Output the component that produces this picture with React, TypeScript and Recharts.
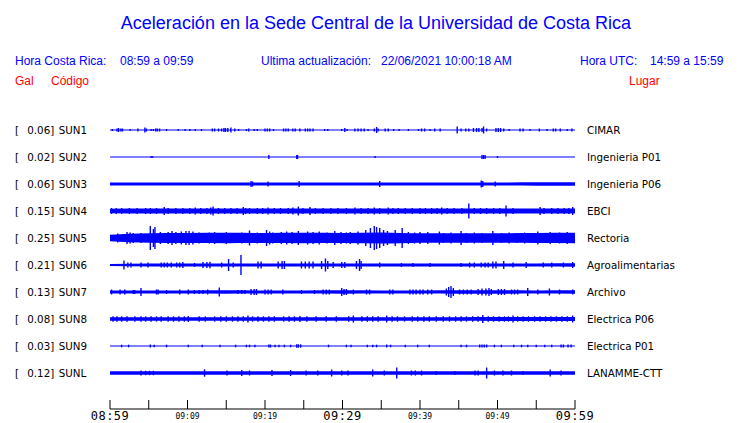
import { ComposedChart, Area, Scatter, ErrorBar, XAxis, YAxis } from 'recharts'

// station rows, top to bottom
const codes = ['SUN1', 'SUN2', 'SUN3', 'SUN4', 'SUN5', 'SUN6', 'SUN7', 'SUN8', 'SUN9', 'SUNL']
const gals = ['0.06', '0.02', '0.06', '0.15', '0.25', '0.21', '0.13', '0.08', '0.03', '0.12']
const places = ['CIMAR', 'Ingenieria P01', 'Ingenieria P06', 'EBCI', 'Rectoria', 'Agroalimentarias', 'Archivo', 'Electrica P06', 'Electrica P01', 'LANAMME-CTT']

// minutes after 08:59
const tickTimes = [0, 5, 10, 15, 20, 25, 30, 35, 40, 45, 50, 55, 60]
const tickLabels = ['08:59', '', '09:09', '', '09:19', '', '09:29', '', '09:39', '', '09:49', '', '09:59']
const majorLabels = ['08:59', '09:29', '09:59']

// background noise half-width of each trace, read every 5 minutes
const envTimes = [0, 5, 10, 15, 20, 25, 30, 35, 40, 45, 50, 55, 60]
const sun1Env = [0.55, 0.55, 0.55, 0.55, 0.55, 0.55, 0.55, 0.55, 0.55, 0.55, 0.55, 0.55, 0.55]
const sun2Env = [0.5, 0.5, 0.5, 0.5, 0.5, 0.5, 0.5, 0.5, 0.5, 0.5, 0.5, 0.5, 0.5]
const sun3Env = [1.5, 1.5, 1.6, 1.6, 1.5, 1.5, 1.5, 1.5, 1.6, 1.6, 1.6, 1.7, 1.7]
const sun4Env = [2.2, 2.4, 2.4, 2.4, 2.5, 2.5, 2.4, 2.4, 2.4, 2.4, 2.5, 2.4, 2.6]
const sun5Env = [3.3, 4.8, 5, 5.2, 5, 5.2, 5, 5.6, 4.8, 4.8, 4.8, 5, 5.2]
const sun6Env = [1, 1.5, 1.5, 1.6, 1.5, 1.6, 1.5, 1.5, 1.5, 1.6, 1.6, 1.6, 1.7]
const sun7Env = [1.6, 1.6, 1.6, 1.7, 1.6, 1.6, 1.7, 1.6, 1.6, 1.7, 1.7, 1.6, 1.7]
const sun8Env = [1.8, 1.8, 1.8, 1.8, 1.8, 1.8, 1.8, 1.8, 1.8, 1.8, 1.9, 1.9, 2]
const sun9Env = [0.6, 0.6, 0.6, 0.6, 0.6, 0.6, 0.6, 0.6, 0.6, 0.6, 0.6, 0.6, 0.6]
const sunlEnv = [1.7, 1.7, 1.7, 1.7, 1.7, 1.7, 1.7, 1.7, 1.7, 1.7, 1.7, 1.7, 1.8]

// bursts and spikes: [minute, half amplitude]
const sun1Events = [[0.3, 1], [0.9, 1.5], [1.1, 2], [1.4, 1.5], [1.6, 1.5], [2.6, 1], [3.6, 1.5], [4.5, 2.5], [4.7, 1.5], [5.3, 1], [5.6, 1], [5.9, 1.5], [6.1, 1.5], [6.4, 1.5], [7.3, 1], [8.8, 1], [9.7, 1], [10.3, 1], [11, 1], [11.8, 1], [13.2, 1.5], [13.5, 1.5], [14, 1.5], [14.4, 1.5], [14.7, 2], [14.9, 2], [15.2, 2], [15.6, 2.5], [16.1, 1.5], [16.6, 1], [17.6, 1], [17.9, 1.5], [18.6, 1], [19, 1], [20, 1.5], [20.3, 1.5], [20.6, 1.5], [21.1, 1], [22.4, 1.5], [22.7, 1.5], [23, 1.5], [23.6, 1.5], [23.9, 1.5], [24.5, 1.5], [25.2, 1.5], [25.5, 1.5], [25.8, 1.5], [26.2, 1.5], [27.7, 1], [28.1, 1], [29.9, 1], [30.3, 2], [30.6, 1], [31.6, 1.5], [32, 1.5], [32.4, 1.5], [32.8, 1.5], [33.3, 1], [34.1, 1.5], [34.4, 3], [34.6, 1.5], [35.5, 1.5], [35.9, 1.5], [36.6, 1], [37.3, 1], [38.5, 1], [39.8, 1], [40.2, 1.5], [40.6, 1.5], [41.3, 1], [41.9, 1.5], [42.6, 1.5], [44.8, 3.5], [45.3, 1.5], [45.9, 1.5], [46.3, 1.5], [46.9, 2], [47.3, 2], [47.6, 2], [48, 2], [48.2, 3.5], [48.6, 1.5], [49.8, 2], [50.1, 2], [50.4, 2], [50.8, 1.5], [51.5, 1], [52.9, 1.5], [53.3, 1.5], [54.2, 1], [55.4, 1.5], [56.4, 1], [57.2, 1.5], [57.5, 1.5], [58.1, 1.5], [59, 1], [59.6, 1.5]]
const sun2Events = [[5.3, 1], [5.5, 0.8], [20.5, 2], [24.1, 2], [24.2, 2], [34.2, 1], [48, 2], [48.2, 2], [48.4, 2], [50, 1]]
const sun3Events = [[18.2, 3], [18.4, 2.5], [20.4, 2.5], [24.4, 3], [34.8, 3], [47.9, 3.5], [48.1, 3], [49.7, 2.5]]
const sun4Events = [[0.2, 3], [0.8, 3], [1.5, 3], [2.5, 3], [3.5, 3], [4.6, 3], [5.2, 3], [6, 3], [7, 4], [7.5, 3], [8.5, 3], [9.4, 3], [10.3, 3], [11, 3.5], [11.7, 3], [12.5, 3], [13, 3.5], [13.3, 4.5], [14, 3], [14.8, 3], [15.6, 3], [16.4, 3], [17.2, 4], [17.5, 3], [18, 3], [19, 3], [19.7, 3], [20.4, 3.5], [21.2, 3], [22, 3], [23, 3], [23.6, 3.5], [24.3, 4.5], [24.9, 3], [25.8, 4], [26.5, 3], [27.5, 3], [28.5, 3], [29.4, 3], [30.5, 3], [31.6, 3.5], [32.4, 3], [33.3, 3], [34.1, 3.5], [34.8, 3], [35.9, 3.5], [36.5, 3], [37.2, 3], [38.1, 3], [39, 3], [40, 3], [40.7, 3], [41.5, 3], [42.2, 3], [42.8, 3.5], [43.5, 3], [44.4, 3], [45.4, 3], [46.3, 7.5], [47, 3], [47.8, 3], [48.6, 3], [49.5, 3], [50.3, 3], [51.1, 5.5], [52, 3], [55.5, 4], [56, 3], [57, 3], [57.8, 3], [58.6, 3], [59.2, 3], [59.7, 4]]
const sun5Events = [[1, 4.5], [2.2, 6], [2.6, 5.5], [3, 5], [4, 5], [5.2, 12], [5.6, 9], [5.8, 11], [6.5, 6], [7.5, 6], [8, 7], [8.5, 6], [9.2, 6.5], [9.8, 7], [10.2, 7], [10.7, 6.5], [11.5, 5.5], [12.8, 5.5], [13.5, 6], [14.2, 5], [15, 6], [16, 5], [17, 5.5], [18, 7.5], [19, 5.5], [20.2, 8], [20.6, 6.5], [21, 5.5], [22.1, 6], [22.8, 6.5], [23.5, 6], [24.3, 7], [25.5, 6.5], [26.2, 6], [27, 6.5], [28, 5.5], [29, 7], [29.8, 6], [30.5, 5.5], [31, 6], [32, 6.5], [33, 8], [33.6, 10], [34.1, 12], [34.4, 11], [34.8, 10], [35.3, 8], [35.8, 7], [36.8, 8], [37.7, 10], [38.5, 6], [39.3, 5.5], [40, 6], [41, 6], [42.5, 6.5], [43, 5], [44, 5.5], [45.3, 7], [46, 5], [47, 5.5], [48, 5], [49.4, 7], [50.5, 5], [51.5, 5.5], [52.5, 5], [53.5, 5.5], [54.3, 5], [55.2, 6.5], [56.8, 6], [58, 5.5], [59, 6]]
const sun6Events = [[1.8, 4.5], [2.3, 2.5], [2.7, 2.5], [4, 2.5], [4.9, 2.5], [6.6, 2.5], [7, 2.5], [7.4, 2.5], [7.9, 2.5], [8.6, 2.5], [9, 2.5], [9.4, 3], [10.9, 2], [12, 3], [12.5, 3], [12.9, 3.3], [14.4, 2.5], [15.3, 6], [15.9, 2.5], [16.9, 10], [19.1, 3.5], [19.5, 3.5], [21.7, 3.5], [22.2, 4], [22.5, 4], [24.7, 3.5], [25.2, 3.5], [25.7, 3.5], [26.2, 3.5], [27.3, 4], [27.8, 6.5], [28.1, 4], [28.8, 3], [29.9, 3], [30.3, 3], [31.8, 4], [32.2, 6], [32.4, 4], [34.8, 2.5], [37.6, 2], [39.1, 2], [41.3, 2], [45.3, 2], [46.4, 2.5], [47, 2.5], [47.9, 2.5], [48.4, 2.5], [48.8, 2.5], [49.4, 3.5], [49.8, 3.5], [50.8, 4], [52, 2.5], [53.7, 3], [55.9, 2.5], [57, 2.5], [58.5, 2.5], [59.7, 3]]
const sun7Events = [[0.2, 2.5], [1.3, 2.5], [1.9, 2.5], [3, 2], [3.2, 2], [4, 4], [6, 2.5], [6.2, 2.5], [7.3, 2], [9, 2.5], [10.1, 2.5], [10.9, 2], [11.5, 2], [12, 2], [12.6, 2.5], [14.1, 4.5], [16.5, 2], [17, 2], [17.4, 2], [18.2, 3], [18.6, 3], [18.9, 3], [20, 2.5], [20.4, 2.5], [20.8, 2.5], [22.3, 2.5], [24.7, 2], [26.4, 2], [27.5, 2.5], [27.9, 2.5], [28.3, 2.5], [29.9, 4], [30.2, 3], [30.5, 3], [31.4, 2.5], [33.1, 2.5], [33.5, 2.5], [36.1, 2.5], [36.5, 2.5], [38.7, 2.5], [39.1, 2.5], [39.5, 2.5], [40, 2.5], [40.4, 2.5], [41, 2.5], [41.5, 2.5], [43.4, 3.5], [43.7, 5], [44, 6], [44.3, 4], [45.1, 2.5], [45.6, 2.5], [46.1, 2.5], [46.6, 2.5], [47.5, 3], [48, 3.5], [48.5, 3.5], [48.9, 4], [49.2, 3], [50.1, 3], [50.5, 3], [50.9, 3], [51.8, 2.5], [52.2, 2.5], [52.6, 2.5], [53.9, 4], [55.2, 2.5], [56.7, 3.5], [58, 2.5], [59.7, 2.5]]
const sun8Events = [[0.4, 2.7], [0.9, 2.7], [1.5, 2.7], [2.2, 2.7], [3.2, 2.7], [4, 2.7], [4.6, 2.7], [5.3, 2.7], [6, 2.7], [6.6, 2.7], [7.5, 2.7], [8.2, 2.7], [8.9, 2.7], [9.6, 2.7], [10.1, 3], [11.5, 2.7], [12.3, 2.7], [13.5, 2.7], [14.3, 2.7], [15, 2.7], [15.8, 2.7], [16.5, 2.7], [17.2, 2.7], [17.8, 3.5], [18.4, 2.7], [19.1, 2.7], [19.8, 2.7], [20.5, 2.7], [21.2, 2.7], [22.4, 2.7], [23.1, 2.7], [23.8, 2.7], [24.5, 3], [25.4, 2.7], [26.6, 2.7], [27.9, 2.7], [29.2, 2.7], [30.8, 2.7], [31.4, 3.5], [32.5, 2.7], [33.2, 2.7], [33.9, 2.7], [34.6, 2.7], [35.7, 3.5], [36.4, 2.7], [37.1, 2.7], [38, 2.7], [39, 2.7], [39.7, 2.7], [40.5, 2.7], [41.2, 2.7], [42.1, 2.7], [43, 2.7], [43.8, 2.7], [44.6, 2.7], [45.3, 2.7], [46, 2.7], [46.8, 2.7], [47.5, 2.7], [48.1, 4], [48.8, 2.7], [49.5, 2.7], [50.2, 2.7], [50.9, 2.7], [51.4, 2.7], [52, 3.5], [52.6, 2.7], [53.3, 2.7], [54, 2.7], [54.8, 2.7], [55.5, 2.7], [56.2, 2.7], [56.9, 2.7], [57.6, 2.7], [58.3, 2.7], [59, 2.7], [59.7, 3.5]]
const sun9Events = [[1.5, 1.3], [2.4, 1.3], [5.2, 1.5], [5.7, 1.3], [7.3, 1.3], [10.1, 1.3], [11.9, 1.3], [14.2, 1.3], [16.2, 1.3], [17.6, 1.3], [18, 1.3], [18.7, 1.3], [20.5, 1.5], [20.7, 1.5], [21.3, 1.3], [21.8, 1.3], [22.5, 1.3], [23.3, 1.3], [24.1, 1.7], [24.3, 1.7], [24.6, 1.7], [28.2, 1.3], [30.5, 1.3], [31.1, 1.3], [33.2, 1.3], [33.9, 1.3], [34.4, 1.3], [35.7, 1.5], [36.2, 1.3], [38.1, 1.3], [39.7, 1.3], [41.2, 1.3], [45.3, 1.3], [46, 1.3], [47.7, 1.5], [48, 1.5], [48.3, 1.5], [48.6, 1.5], [49.6, 1.3], [50.5, 1.3], [52.1, 1.3], [53.1, 1.3], [53.9, 1.3], [55, 1.3], [56.1, 1.3], [57, 1.3], [58.2, 1.5], [58.5, 1.5], [59.1, 1.5], [59.5, 1.5]]
const sunlEvents = [[4, 2.5], [4.6, 2.2], [5.1, 2.2], [5.6, 2.2], [12.2, 3.7], [15.1, 2.5], [17, 3], [18, 2.5], [20.9, 3], [23.3, 3], [25.3, 2.5], [26.8, 2.5], [28.6, 3.5], [29.9, 2.5], [30.7, 2.5], [33.9, 3.5], [35.4, 2.5], [37, 5.5], [38.9, 2.5], [39.4, 2.5], [40.2, 2.5], [42.1, 2], [44.5, 2], [47.1, 2.5], [47.5, 2.5], [48.6, 5.5], [49.6, 2.5], [50.7, 2.5], [51.8, 2.5], [53.3, 2], [56.8, 3.5], [58.2, 2.5]]

const envs = [sun1Env, sun2Env, sun3Env, sun4Env, sun5Env, sun6Env, sun7Env, sun8Env, sun9Env, sunlEnv]
const events = [sun1Events, sun2Events, sun3Events, sun4Events, sun5Events, sun6Events, sun7Events, sun8Events, sun9Events, sunlEvents]

const ROW = 27
const BLUE = '#0000ff'
const rowCenters = codes.map((_, i) => i * ROW)

const bandData = envs.map((env, i) =>
  env.map((a, k) => ({ t: envTimes[k], band: [i * ROW - a, i * ROW + a] }))
)
const spikeData = events.flatMap((list, i) => list.map(([t, e]) => ({ t, y: i * ROW, e })))

const StationTick = (props: any) => {
  const { y, payload } = props
  const i = Math.round(payload.value / ROW)
  const style = { fontFamily: 'DejaVu Sans', fontSize: 10.3, fill: '#000' }
  return (
    <g>
      <text x={15} y={y + 4} {...style}>[</text>
      <text x={27.3} y={y + 4} {...style}>{gals[i]}]</text>
      <text x={58.7} y={y + 4} {...style}>{codes[i]}</text>
      <text x={587} y={y + 4} {...style}>{places[i]}</text>
    </g>
  )
}

const TimeTick = (props: any) => {
  const { x, y, payload } = props
  const label = tickLabels[tickTimes.indexOf(payload.value)]
  const big = majorLabels.includes(label)
  return (
    <g>
      <line x1={x} x2={x} y1={y - 9} y2={y} stroke="#000" />
      {label && (
        <text x={x} y={big ? y + 11 : y + 9.7} textAnchor="middle"
          fontFamily="DejaVu Sans Mono" fontSize={big ? 12 : 8} letterSpacing={big ? 0.5 : 0} fill="#000">
          {label}
        </text>
      )}
    </g>
  )
}

const Header = () => {
  const sans = 'Liberation Sans, Arial, sans-serif'
  return (
    <svg width={740} height={100} style={{ position: 'absolute', left: 0, top: 0 }}>
      <text x={376} y={29} textAnchor="middle" fontFamily={sans} fontSize={18} fill={BLUE}>
        Aceleración en la Sede Central de la Universidad de Costa Rica
      </text>
      <g fontFamily={sans} fontSize={12} fill={BLUE}>
        <text x={15} y={65}>Hora Costa Rica:</text>
        <text x={120} y={65}>08:59 a 09:59</text>
        <text x={261} y={65}>Ultima actualización:</text>
        <text x={381} y={65}>22/06/2021 10:00:18 AM</text>
        <text x={580} y={65}>Hora UTC:</text>
        <text x={650} y={65}>14:59 a 15:59</text>
      </g>
      <g fontFamily={sans} fontSize={12} fill="#ff0000">
        <text x={15} y={85}>Gal</text>
        <text x={51} y={85}>Código</text>
        <text x={629} y={85}>Lugar</text>
      </g>
    </svg>
  )
}

export default function App() {
  return (
    <div style={{ position: 'absolute', left: 0, top: 0, width: 740, height: 423, background: '#fff' }}>
      <ComposedChart width={740} height={423} margin={{ top: 113, right: 165, bottom: 0, left: 0 }}>
        <XAxis dataKey="t" type="number" domain={[0, 60]} ticks={tickTimes} allowDataOverflow
          height={14} tickSize={0} tickMargin={0} tickLine={false}
          axisLine={{ stroke: '#000' }} tick={<TimeTick />} interval={0} />
        <YAxis type="number" domain={[-17, 279]} reversed allowDataOverflow width={110}
          ticks={rowCenters} interval={0} tick={<StationTick />} axisLine={false} tickLine={false}
          tickSize={0} tickMargin={0} />
        {bandData.map((d, i) => (
          <Area key={codes[i]} data={d} dataKey="band" type="monotone" fill={BLUE} fillOpacity={1}
            stroke="none" isAnimationActive={false} dot={false} activeDot={false} />
        ))}
        <Scatter data={spikeData} dataKey="y" shape={() => <g />} isAnimationActive={false}>
          <ErrorBar dataKey="e" direction="y" width={0} stroke={BLUE} strokeWidth={1.4} isAnimationActive={false} />
        </Scatter>
      </ComposedChart>
      <Header />
    </div>
  )
}
